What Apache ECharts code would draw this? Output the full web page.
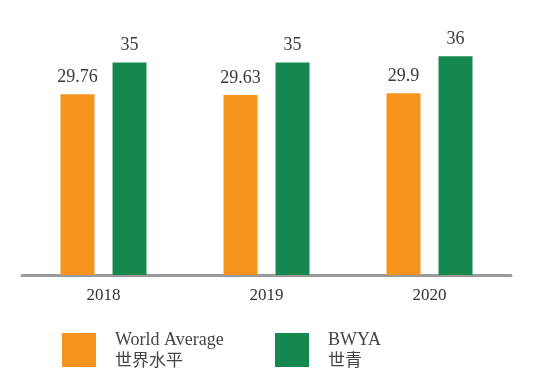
<!DOCTYPE html>
<html>
<head>
<meta charset="utf-8">
<script src="https://cdn.jsdelivr.net/npm/echarts@6/dist/echarts.min.js"></script>
<style>html,body{margin:0;padding:0;background:#fff;}#c{width:550px;height:382px;}</style>
</head>
<body>
<div id="c"></div>
<script>
var categories = ['2018', '2019', '2020'];
var worldAverage = [29.76, 29.63, 29.9];
var bwya = [35, 35, 36];
var seriesNames = ['World Average', 'BWYA'];
var seriesNamesZh = ['世界水平', '世青'];

var serif = '"Liberation Serif", "DejaVu Serif", serif';
var cjk = '"Noto Sans CJK SC", sans-serif';
var colors = ['#F7941E', '#15884F'];

function legendFmt(name) {
  var i = seriesNames.indexOf(name);
  return '{en|' + name + '}\n{zh|' + seriesNamesZh[i] + '}';
}
var legendRich = {
  en: { fontFamily: serif, fontSize: 18, color: '#444', lineHeight: 20 },
  zh: { fontFamily: cjk, fontSize: 17, color: '#444', lineHeight: 20 }
};

var chart = echarts.init(document.getElementById('c'), null, { renderer: 'canvas' });
chart.setOption({
  animation: false,
  backgroundColor: '#fff',
  grid: { left: 22, width: 489, top: 32, bottom: 107 },
  legend: [
    { data: [seriesNames[0]], left: 62, top: 331, padding: 0, itemWidth: 34, itemHeight: 34, itemGap: 0,
      icon: 'rect', formatter: legendFmt, textStyle: { rich: legendRich, padding: [0, 0, 0, 14] }, selectedMode: false },
    { data: [seriesNames[1]], left: 275, top: 331, padding: 0, itemWidth: 34, itemHeight: 34, itemGap: 0,
      icon: 'rect', formatter: legendFmt, textStyle: { rich: legendRich, padding: [0, 0, 0, 14] }, selectedMode: false }
  ],
  xAxis: {
    type: 'category',
    data: categories,
    axisLine: { lineStyle: { color: '#9a9a9a', width: 3 } },
    axisTick: { show: false },
    axisLabel: { fontFamily: serif, fontSize: 17, color: '#333', margin: 12 }
  },
  yAxis: {
    type: 'value', min: 0, max: 40,
    show: false, splitLine: { show: false }
  },
  series: [
    { name: seriesNames[0], type: 'bar', data: worldAverage, barWidth: 34, barGap: '53%',
      itemStyle: { color: colors[0] },
      label: { show: true, position: 'top', distance: 8, fontFamily: serif, fontSize: 18, color: '#3a3a3a' } },
    { name: seriesNames[1], type: 'bar', data: bwya, barWidth: 34,
      itemStyle: { color: colors[1] },
      label: { show: true, position: 'top', distance: 8, fontFamily: serif, fontSize: 18, color: '#3a3a3a' } }
  ]
});
</script>
</body>
</html>
